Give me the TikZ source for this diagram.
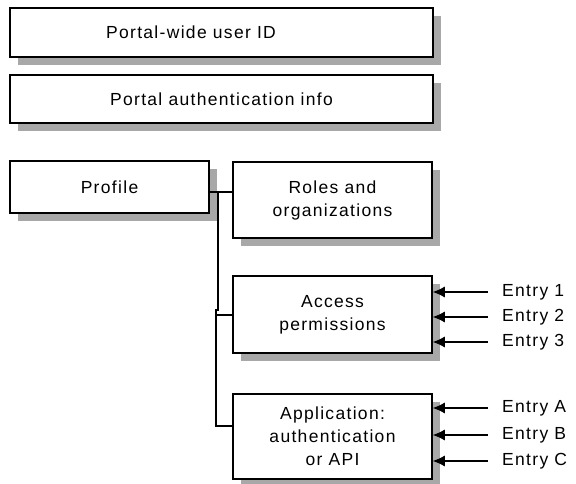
\documentclass[tikz,border=0pt]{standalone}
\usepackage{fontspec}
\setmainfont{Liberation Sans}[LetterSpace=7.5]
\usetikzlibrary{shadows,arrows.meta}
\definecolor{shadowgray}{HTML}{A8A8A8}
\begin{document}
\begin{tikzpicture}[x=1pt,y=-1pt,
  box/.style={draw=black, line width=1.5pt, fill=white, align=center,
    font=\fontsize{17.5}{23}\selectfont, inner sep=0pt,
    drop shadow={shadow xshift=8pt, shadow yshift=-8pt, fill=shadowgray, opacity=1}},
  txt/.style={font=\fontsize{17.5}{23}\selectfont, inner sep=0pt},
  entry/.style={font=\fontsize{17.5}{23}\selectfont, anchor=west, inner xsep=14pt, inner ysep=0pt},
  link/.style={line width=1.2pt},
  arr/.style={line width=1.2pt, -{Latex[length=12pt,width=11pt]}}]
\useasboundingbox (0,0) rectangle (576,484);

\node[box, minimum width=423, minimum height=49] (uid) at (221.5,32.5) {};
\node[txt] (uidt) at (191,32) {Portal-wide user ID};
\node[box, minimum width=423, minimum height=48] (auth) at (221.5,99) {Portal authentication info};
\node[box, minimum width=199, minimum height=52] (prof) at (109.5,187) {Profile};
\node[box, minimum width=199, minimum height=76] (roles) at (332.5,200) {Roles and\\organizations};
\node[box, minimum width=199, minimum height=77] (acc) at (332.5,314.5) {Access\\permissions};
\node[box, minimum width=199, minimum height=85] (app) at (332.5,436.5) {Application:\\authentication\\or API};

\coordinate (j1) at (218,192);
\coordinate (j2) at (218,310);
\coordinate (j3) at (216,310);
\coordinate (j4) at (216,315);
\coordinate (j5) at (216,426);
\draw[link] (prof.east |- j1) -- (j1) -- (roles.west |- j1);
\draw[link] (j1) -- (j2) -- (j3) -- (j5) -- (app.west |- j5);
\draw[link] (j4) -- (acc.west |- j4);

\node[entry] (e1) at (488,292) {Entry 1};
\node[entry] (e2) at (488,317) {Entry 2};
\node[entry] (e3) at (488,342) {Entry 3};
\node[entry] (ea) at (488,408) {Entry A};
\node[entry] (eb) at (488,435) {Entry B};
\node[entry] (ec) at (488,461) {Entry C};

\foreach \e in {e1,e2,e3} \draw[arr] (\e.west) -- (acc.east |- \e.west);
\foreach \e in {ea,eb,ec} \draw[arr] (\e.west) -- (app.east |- \e.west);
\end{tikzpicture}
\end{document}
